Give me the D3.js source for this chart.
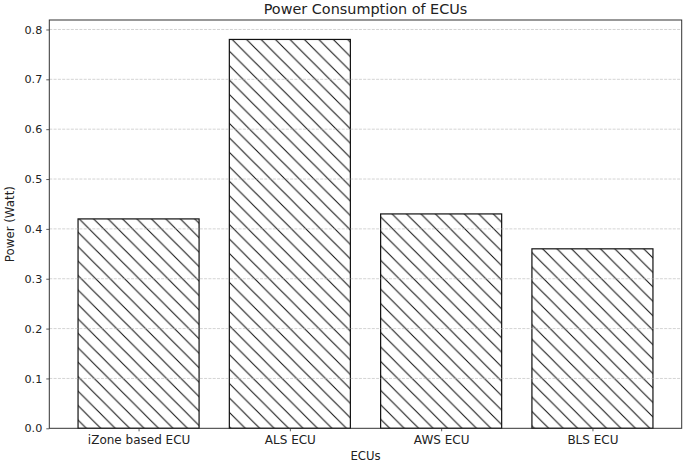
<!DOCTYPE html>
<html>
<head>
<meta charset="utf-8">
<script src="https://cdn.jsdelivr.net/npm/d3@7"></script>
<style>
  html, body { margin: 0; padding: 0; background: #fff; }
  svg { display: block; font-family: "DejaVu Sans", sans-serif; }
</style>
</head>
<body>
<svg id="chart" width="685" height="463"></svg>
<script>
const categories = ["iZone based ECU", "ALS ECU", "AWS ECU", "BLS ECU"];
const powerValues = [0.42, 0.78, 0.43, 0.36];
const yTicks = [0.0, 0.1, 0.2, 0.3, 0.4, 0.5, 0.6, 0.7, 0.8];
const titleText = "Power Consumption of ECUs";
const xLabelText = "ECUs";
const yLabelText = "Power (Watt)";

const W = 685, H = 463;
const margin = { left: 49.3, right: 685 - 681.7, top: 20, bottom: 463 - 428.3 };
const svg = d3.select("#chart");
const pw = W - margin.left - margin.right;
const ph = H - margin.top - margin.bottom;

// hatch pattern
const hp = 14.45;
const defs = svg.append("defs");
const pat = defs.append("pattern")
  .attr("id", "hatch")
  .attr("patternUnits", "userSpaceOnUse")
  .attr("x", 4.4).attr("y", 0)
  .attr("width", hp).attr("height", hp);
pat.append("rect").attr("width", hp).attr("height", hp).attr("fill", "#fff");
pat.append("path")
  .attr("d", `M-2,-2 L${hp + 2},${hp + 2} M${hp - 2},-2 L${hp + 2},2 M-2,${hp - 2} L2,${hp + 2}`)
  .attr("stroke", "#111").attr("stroke-width", 1.05).attr("fill", "none");

const g = svg.append("g").attr("transform", `translate(${margin.left},${margin.top})`);

// scales: matplotlib-like limits
const n = categories.length;
const x = d3.scaleLinear().domain([-0.59, n - 1 + 0.59]).range([0, pw]);
const yMax = d3.max(powerValues) * 1.05;
const y = d3.scaleLinear().domain([0, yMax]).range([ph, 0]);
const barW = 0.8;

// bars
g.selectAll("rect.bar").data(powerValues).enter().append("rect")
  .attr("class", "bar")
  .attr("x", (d, i) => x(i - barW / 2))
  .attr("width", (d, i) => x(i + barW / 2) - x(i - barW / 2))
  .attr("y", d => y(d))
  .attr("height", d => y(0) - y(d))
  .attr("fill", "url(#hatch)")
  .attr("stroke", "#111")
  .attr("stroke-width", 1.2);

// grid (drawn over bars like matplotlib default)
g.append("g").selectAll("line").data(yTicks.filter(t => t > 0)).enter().append("line")
  .attr("x1", 0).attr("x2", pw)
  .attr("y1", d => y(d)).attr("y2", d => y(d))
  .attr("stroke", "#b0b0b0").attr("stroke-opacity", 0.7)
  .attr("stroke-width", 0.8).attr("stroke-dasharray", "3,1.3");

// axes
const yAxis = d3.axisLeft(y).tickValues(yTicks).tickFormat(d3.format(".1f")).tickSize(3).tickPadding(4);
const yg = g.append("g").call(yAxis);
const xAxis = d3.axisBottom(x).tickValues(d3.range(n)).tickFormat(i => categories[i]).tickSize(3).tickPadding(4);
const xg = g.append("g").attr("transform", `translate(0,${ph})`).call(xAxis);
[yg, xg].forEach(a => {
  a.select(".domain").remove();
  a.selectAll(".tick line").attr("stroke", "#333").attr("stroke-width", 0.8);
  a.selectAll(".tick text").attr("fill", "#222").style("font-family", "DejaVu Sans");
});
yg.selectAll(".tick text").style("font-size", "11.2px");
xg.selectAll(".tick text").style("font-size", "12px");

// spines
g.append("rect").attr("x", 0).attr("y", 0).attr("width", pw).attr("height", ph)
  .attr("fill", "none").attr("stroke", "#333").attr("stroke-width", 1);

// title & labels
svg.append("text").attr("x", margin.left + pw / 2).attr("y", 14)
  .attr("text-anchor", "middle").attr("fill", "#222")
  .style("font-size", "14.4px").text(titleText);
svg.append("text").attr("x", margin.left + pw / 2).attr("y", 460)
  .attr("text-anchor", "middle").attr("fill", "#222")
  .style("font-size", "11.7px").text(xLabelText);
svg.append("text")
  .attr("transform", `translate(14,${margin.top + ph / 2}) rotate(-90)`)
  .attr("text-anchor", "middle").attr("fill", "#222")
  .style("font-size", "11.8px").text(yLabelText);
</script>
</body>
</html>
